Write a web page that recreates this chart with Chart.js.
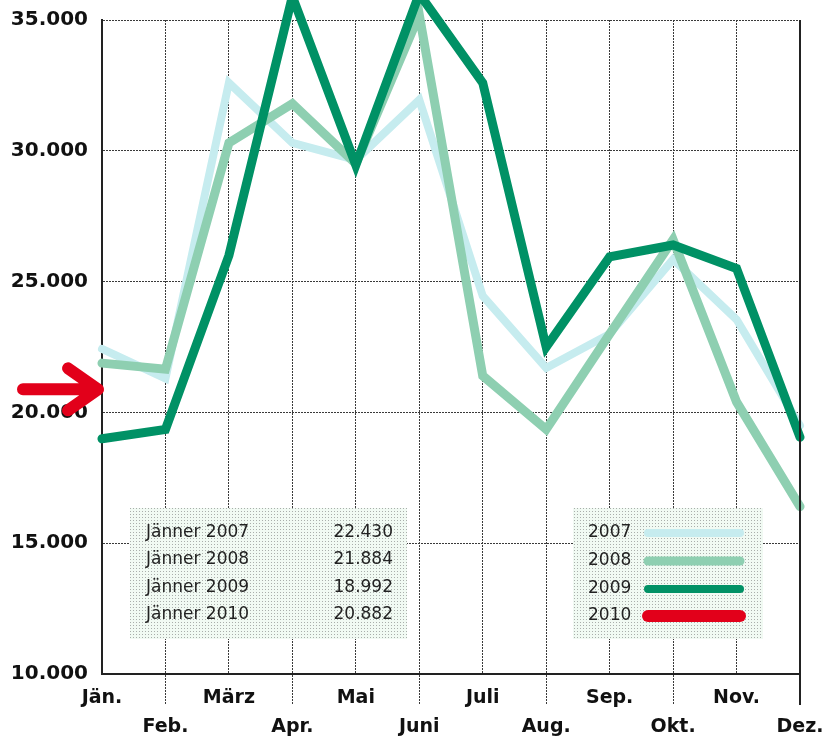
<!DOCTYPE html>
<html><head><meta charset="utf-8">
<script src="https://cdn.jsdelivr.net/npm/chart.js@4"></script>
<style>html,body{margin:0;padding:0;background:#fff;} #wrap{width:827px;height:740px;position:relative;}</style>
</head><body><div id="wrap"><canvas id="c" width="827" height="740"></canvas></div>
<script>
// ---- data ----
const months = ['Jän.','Feb.','März','Apr.','Mai','Juni','Juli','Aug.','Sep.','Okt.','Nov.','Dez.'];
const years = ['2007','2008','2009','2010'];
const values2007 = [22430,21300,32600,30300,29650,31950,24450,21700,23000,25850,23550,19500];
const values2008 = [21884,21650,30300,31800,29500,35200,21400,19350,23000,26600,20400,16400];
const values2009 = [18992,19350,26000,35900,29450,36000,32600,22500,25950,26400,25500,19050];
const values2010 = [20882,null,null,null,null,null,null,null,null,null,null,null];
const yTicks = [10000,15000,20000,25000,30000,35000];
const janLabelPrefix = 'Jänner';

// ---- styles ----
const colors = ['#c6ecef','#8ecfb1','#009165','#e2001a'];
const widths = [8,9,9,0];
const fmt = n => String(n).replace(/\B(?=(\d{3})+(?!\d))/g, '.');
const allSeries = [values2007, values2008, values2009, values2010];

function dotPattern(ctx){
  const c = document.createElement('canvas'); c.width = 3; c.height = 3;
  const g = c.getContext('2d');
  g.fillStyle = '#f1faf3'; g.fillRect(0,0,3,3);
  g.fillStyle = '#a9aeab'; g.fillRect(1,1,1,1);
  return ctx.createPattern(c,'repeat');
}

const decorPlugin = {
  id: 'decor',
  beforeDatasetsDraw(chart){
    const ctx = chart.ctx;
    const pat = dotPattern(ctx);
    ctx.save();
    ctx.fillStyle = pat;
    ctx.fillRect(130, 508, 277, 131);
    ctx.fillRect(573, 508, 190, 131);
    ctx.fillStyle = '#222';
    ctx.font = '17px "DejaVu Sans"';
    ctx.textBaseline = 'middle';
    const rows = [533, 560, 588, 615];
    years.forEach((y, i) => {
      ctx.textAlign = 'left';
      ctx.fillText(janLabelPrefix + ' ' + y, 146, rows[i]);
      ctx.textAlign = 'right';
      ctx.fillText(fmt(allSeries[i][0]), 393, rows[i]);
    });
    const lrows = [533, 561, 589, 616];
    const lw = [8, 9, 8, 12];
    years.forEach((y, i) => {
      ctx.fillStyle = '#222';
      ctx.textAlign = 'left';
      ctx.fillText(y, 588, lrows[i]);
      ctx.strokeStyle = colors[i];
      ctx.lineWidth = lw[i];
      ctx.lineCap = 'round';
      ctx.beginPath(); ctx.moveTo(648, lrows[i]); ctx.lineTo(740, lrows[i]); ctx.stroke();
    });
    ctx.restore();
  },
  afterDatasetsDraw(chart){
    const ctx = chart.ctx;
    const a = chart.chartArea;
    const meta = chart.getDatasetMeta(3);
    const y = meta.data[0].y;
    const tip = a.left + 1;
    ctx.save();
    ctx.strokeStyle = colors[3];
    ctx.lineWidth = 12;
    ctx.lineCap = 'round';
    ctx.lineJoin = 'round';
    ctx.beginPath();
    ctx.moveTo(23, y); ctx.lineTo(tip - 5, y);
    ctx.moveTo(tip - 35, y - 21); ctx.lineTo(tip - 5, y); ctx.lineTo(tip - 35, y + 21);
    ctx.stroke();
    ctx.restore();
  },
  afterDraw(chart){
    const ctx = chart.ctx;
    const a = chart.chartArea;
    ctx.save();
    ctx.strokeStyle = '#222';
    ctx.lineWidth = 2;
    ctx.beginPath();
    ctx.moveTo(a.right, a.top); ctx.lineTo(a.right, a.bottom + 31);
    ctx.stroke();
    ctx.restore();
  }
};

const datasets = years.map((y, i) => ({
  label: y,
  data: allSeries[i],
  borderColor: colors[i],
  backgroundColor: colors[i],
  borderWidth: widths[i],
  pointRadius: 0,
  pointHoverRadius: 0,
  tension: 0,
  fill: false,
  showLine: i < 3,
  clip: false,
  borderJoinStyle: 'miter',
  borderCapStyle: 'round',
  order: 3 - i
}));

new Chart(document.getElementById('c'), {
  type: 'line',
  data: { labels: months, datasets },
  options: {
    responsive: false,
    animation: false,
    events: [],
    layout: { padding: { top: 20, right: 27, left: 0, bottom: 0 } },
    plugins: { legend: { display: false }, tooltip: { enabled: false } },
    scales: {
      x: {
        type: 'category',
        offset: false,
        grid: {
          color: '#3a3a3a', lineWidth: 1, drawTicks: true, tickLength: 31,
          tickColor: c => (c.index % 2 === 1 ? '#3a3a3a' : 'rgba(0,0,0,0)'),
          tickBorderDash: [2, 1], tickWidth: 1
        },
        border: { display: true, color: '#222', width: 2, dash: [2, 1] },
        ticks: {
          autoSkip: false, maxRotation: 0, minRotation: 0, padding: -21, color: '#111',
          font: { family: 'DejaVu Sans', weight: 'bold', size: 19, lineHeight: 1.5 },
          callback: (v, i) => (i % 2 === 0 ? months[i] : ['', months[i]])
        },
        afterFit: s => { s.height = 66; s.paddingLeft = 0; s.paddingRight = 0; }
      },
      y: {
        min: 10000, max: 35000,
        afterBuildTicks: s => { s.ticks = yTicks.map(v => ({ value: v })); },
        grid: { color: '#3a3a3a', lineWidth: 1, drawTicks: false },
        border: { display: true, color: '#222', width: 2, dash: [2, 1] },
        ticks: {
          padding: 14, color: '#111',
          font: { family: 'DejaVu Sans', weight: 'bold', size: 20 },
          callback: v => fmt(v)
        },
        afterFit: s => { s.width = 102; s.paddingTop = 0; s.paddingBottom = 0; }
      }
    }
  },
  plugins: [decorPlugin]
});
</script></body></html>
